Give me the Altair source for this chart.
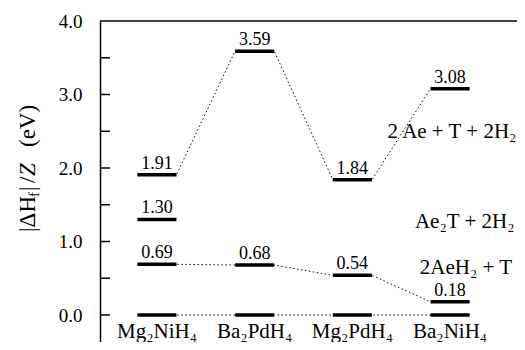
import altair as alt
import pandas as pd

# ---- data ----
compounds = ["Mg₂NiH₄", "Ba₂PdH₄", "Mg₂PdH₄", "Ba₂NiH₄"]
level_elements = [1.91, 3.59, 1.84, 3.08]   # 2 Ae + T + 2H2
level_ae2t = [1.30]                          # Ae2T + 2H2 (Mg2NiH4 only)
level_aeh2 = [0.69, 0.68, 0.54, 0.18]        # 2AeH2 + T
level_zero = [0.0, 0.0, 0.0, 0.0]
y_label_values = [0, 1, 2, 3, 4]
y_tick_values = [0, 0.5, 1, 1.5, 2, 2.5, 3, 3.5]
annot_text = ["2 Ae + T + 2H₂", "Ae₂T + 2H₂", "2AeH₂ + T"]
annot_x = [2.36, 2.64, 2.69]
annot_y = [2.49, 1.265, 0.64]

FONT = "Liberation Serif"
W, H = 417, 321
HALF = 0.2

rows = []
for name, vals, connect in [("elements", level_elements, True),
                            ("ae2t", level_ae2t, False),
                            ("aeh2", level_aeh2, True),
                            ("zero", level_zero, True)]:
    for i, v in enumerate(vals):
        rows.append({"series": name, "connect": connect, "i": i, "value": v,
                     "xlo": i - HALF, "xhi": i + HALF,
                     "label": f"{v:.2f}" if v > 0 else ""})
levels = pd.DataFrame(rows)

pts = []
for _, r in levels[levels.connect].iterrows():
    pts.append({"series": r.series, "x": r.xlo, "value": r.value})
    pts.append({"series": r.series, "x": r.xhi, "value": r.value})
line_df = pd.DataFrame(pts)

xscale = alt.Scale(domain=[-0.583, 3.685], nice=False, zero=False)
yscale = alt.Scale(domain=[-0.367, 4.0], nice=False, zero=False)
yaxis = alt.Axis(values=y_label_values, format=".1f", ticks=False, labelPadding=18,
                 labelFont=FONT, labelFontSize=19, labelColor="black",
                 domainColor="black", domainWidth=1.5, grid=False, title=None)


def X(field, **kw):
    return alt.X(field, type="quantitative", scale=xscale, axis=None, **kw)


def Y(field=None, datum=None):
    if datum is not None:
        return alt.Y(datum=datum, type="quantitative", scale=yscale, axis=yaxis)
    return alt.Y(field, type="quantitative", scale=yscale, axis=yaxis)


dotted = alt.Chart(line_df).mark_line(color="black", strokeWidth=1, strokeDash=[1.5, 2.5]).encode(
    x=X("x"), y=Y("value"), detail="series:N", order="x:Q")

bars = alt.Chart(levels).mark_rule(color="black", strokeWidth=3.5).encode(
    x=X("xlo"), x2="xhi", y=Y("value"))

vlabels = alt.Chart(levels).transform_filter("datum.value > 0").mark_text(
    font=FONT, fontSize=18, baseline="alphabetic", dy=-6, color="black").encode(
    x=X("i"), y=Y("value"), text="label:N")

cat_df = pd.DataFrame({"i": list(range(len(compounds))), "name": compounds})
cats = alt.Chart(cat_df).mark_text(font=FONT, fontSize=21, baseline="alphabetic", color="black").encode(
    x=X("i"), y=Y(datum=-0.31), text="name:N")

ann_df = pd.DataFrame({"t": annot_text, "x": annot_x, "y": annot_y})
ann = alt.Chart(ann_df).mark_text(font=FONT, fontSize=21, align="left", baseline="middle", color="black").encode(
    x=X("x"), y=Y("y"), text="t:N")

topline = alt.Chart(pd.DataFrame({"v": [4.0]})).mark_rule(color="black", strokeWidth=1.5).encode(
    x=alt.value(0), x2=alt.value(W), y=Y("v"))

ticks = alt.Chart(pd.DataFrame({"v": y_tick_values})).mark_rule(color="black", strokeWidth=1.5).encode(
    x=alt.value(0), x2=alt.value(10), y=Y("v"))

# y title pieces (rotated), |ΔH_f| /Z  (eV)
title_parts = [
    ("|ΔH", 23, "normal", 211, -72),
    ("f", 15, "normal", 176, -66),
    ("|", 23, "normal", 170, -72),
    ("/", 23, "normal", 162, -72),
    ("Z", 23, "italic", 155, -72),
    ("(eV)", 23, "normal", 126, -72),
]
tlayers = []
for txt, fs, st, yy, xx in title_parts:
    tlayers.append(alt.Chart(pd.DataFrame({"t": [txt]})).mark_text(
        font=FONT, fontSize=fs, fontStyle=st, angle=270, align="left", baseline="middle",
        color="black").encode(x=alt.value(xx), y=alt.value(yy), text="t:N"))

chart = alt.layer(dotted, bars, vlabels, cats, ann, topline, ticks, *tlayers).properties(
    width=W, height=H,
    autosize=alt.AutoSizeParams(type="none"),
    padding={"left": 92, "top": 13, "right": 0, "bottom": 0},
).configure(font=FONT, background="white").configure_view(stroke=None).configure_text(
    font=FONT).configure_axis(labelFont=FONT)

chart.save("out.html", embed_options={"renderer": "svg", "actions": False})
